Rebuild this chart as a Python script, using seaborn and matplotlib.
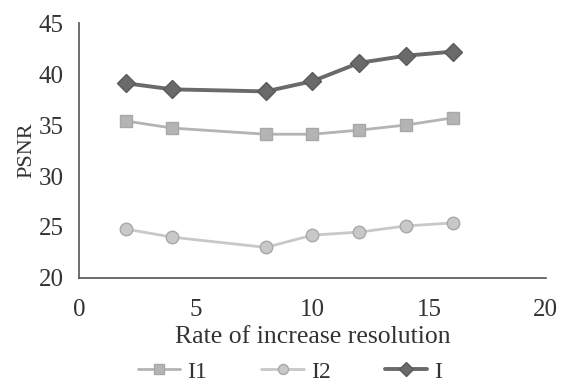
import numpy as np
import pandas as pd
import matplotlib
matplotlib.use('Agg')
import matplotlib.pyplot as plt
import seaborn as sns

rate = [2, 4, 8, 10, 12, 14, 16]
psnr_i1 = [35.4, 34.7, 34.1, 34.1, 34.5, 35.0, 35.7]
psnr_i2 = [24.8, 24.0, 23.0, 24.2, 24.5, 25.1, 25.4]
psnr_i = [39.1, 38.5, 38.3, 39.3, 41.1, 41.8, 42.2]
series = ['I1', 'I2', 'I']

df = pd.DataFrame({
    'rate': rate * 3,
    'psnr': psnr_i1 + psnr_i2 + psnr_i,
    'series': ['I1'] * 7 + ['I2'] * 7 + ['I'] * 7,
})

sns.set_style('white')
plt.rcParams['font.family'] = ['Liberation Serif', 'DejaVu Serif']

fig = plt.figure(figsize=(5.61, 3.85), dpi=100)
ax = fig.add_axes([0.141, 0.278, 0.832, 0.662])

palette = {'I1': '#b4b4b4', 'I2': '#c8c8c8', 'I': '#6a6a6a'}
markers = {'I1': 's', 'I2': 'o', 'I': 'D'}
sns.lineplot(data=df, x='rate', y='psnr', hue='series', style='series',
             hue_order=series, style_order=series, palette=palette,
             markers=markers, dashes=False, markersize=9,
             markeredgecolor='#a8a8a8', markeredgewidth=1, ax=ax)
for line in ax.lines:
    if line.get_color() == '#6a6a6a':
        line.set_linewidth(2.8)
        line.set_markeredgecolor('#5a5a5a')
    else:
        line.set_linewidth(2)

ax.set_xlim(0, 20)
ax.set_ylim(20, 45)
ax.set_xticks([0, 5, 10, 15, 20])
ax.set_yticks([20, 25, 30, 35, 40, 45])
ax.tick_params(labelsize=18, colors='#333333', length=0)
ax.tick_params(axis='x', pad=15)
ax.tick_params(axis='y', pad=11)
ax.set_xlabel('Rate of increase resolution', fontsize=18.5, color='#333333', labelpad=4)
ax.set_ylabel('PSNR', fontsize=16, color='#333333', labelpad=2)
for s in ['top', 'right']:
    ax.spines[s].set_visible(False)
for s in ['left', 'bottom']:
    ax.spines[s].set_color('#555555')
    ax.spines[s].set_linewidth(1.2)

handles, labels = ax.get_legend_handles_labels()
ax.get_legend().remove()
fig.legend(handles, labels, loc='center', bbox_to_anchor=(0.517, 0.034),
           ncol=3, frameon=False, fontsize=17, handlelength=1.8,
           columnspacing=2.3, handletextpad=0.3, labelcolor='#333333',
           markerscale=0.8)

fig.savefig('out.png', dpi=100, facecolor='white')
